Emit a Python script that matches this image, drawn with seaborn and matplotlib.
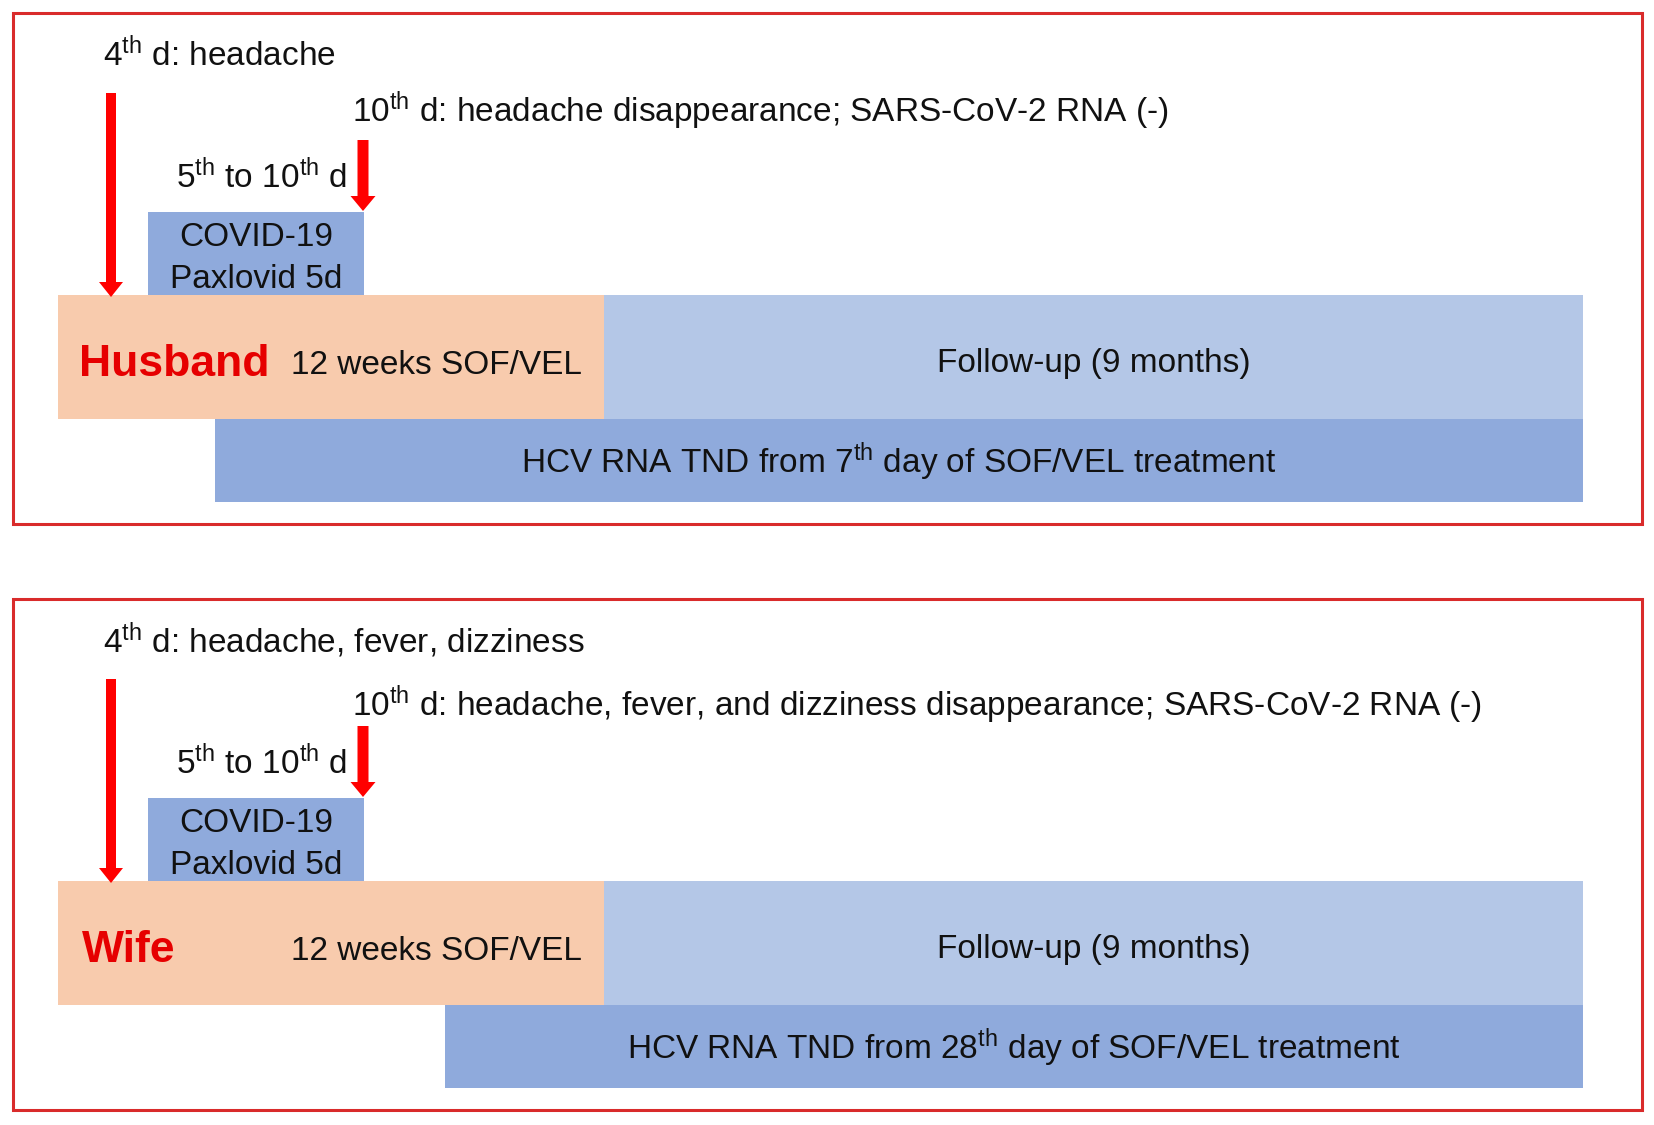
import matplotlib.pyplot as plt
import seaborn as sns
from matplotlib.patches import Rectangle

sns.set_theme(style="white")
plt.rcParams['font.family'] = ['Liberation Sans', 'DejaVu Sans']
plt.rcParams['mathtext.fontset'] = 'custom'
plt.rcParams['mathtext.rm'] = 'Liberation Sans'
plt.rcParams['mathtext.it'] = 'Liberation Sans:italic'
plt.rcParams['mathtext.bf'] = 'Liberation Sans:bold'

# Data (timeline in diagram units, one panel per patient)
patients = ["Husband", "Wife"]
onset_symptoms = ["headache", "headache, fever, dizziness"]
recovery_symptoms = ["headache disappearance",
                     "headache, fever, and dizziness disappearance"]
hcv_tnd_day = [7, 28]
treat_span = (58, 604)       # 12 weeks SOF/VEL
follow_span = (604, 1583)    # follow-up 9 months
covid_span = (148, 364)      # Paxlovid 5 days
hcv_start = [215, 445]       # HCV RNA TND from day x
hcv_end = 1583
onset_x = 111                # 4th day arrow
recovery_x = 363             # 10th day arrow

PEACH = "#F8CBAD"
LIGHT_BLUE = "#B4C7E7"
MID_BLUE = "#8FAADC"
RED = "#FF0000"
TXT = "#111111"

fig = plt.figure(figsize=(16.54, 11.25), dpi=100)
ax = fig.add_axes([0, 0, 1, 1])
ax.set_xlim(0, 1654)
ax.set_ylim(1125, 0)
ax.axis('off')

panel_offset = 586
name_x = [79, 82]
for i, name in enumerate(patients):
    off = i * panel_offset

    # panel frame
    ax.add_patch(Rectangle((13, 13 + off), 1629, 511, fill=False,
                           ec="#D92B2B", lw=2.2))

    # main bars
    ax.barh(357 + off, treat_span[1] - treat_span[0], left=treat_span[0],
            height=124, color=PEACH, edgecolor='none')
    ax.barh(357 + off, follow_span[1] - follow_span[0], left=follow_span[0],
            height=124, color=LIGHT_BLUE, edgecolor='none')
    ax.barh(460.5 + off, hcv_end - hcv_start[i], left=hcv_start[i],
            height=83, color=MID_BLUE, edgecolor='none')
    ax.barh(253.5 + off, covid_span[1] - covid_span[0], left=covid_span[0],
            height=83, color=MID_BLUE, edgecolor='none')

    # arrows
    ax.arrow(onset_x, 93 + off, 0, 204, width=10, head_width=24,
             head_length=15, length_includes_head=True, color=RED, lw=0)
    ax.arrow(recovery_x, 140 + off, 0, 71, width=11, head_width=25,
             head_length=15, length_includes_head=True, color=RED, lw=0)

    # texts
    ax.text(103, 66 + off, r"4$^{\mathrm{th}}$ d: " + onset_symptoms[i],
            fontsize=24, color=TXT, va='baseline', ha='left')
    rec_y = 122 if i == 0 else 716 - off
    ax.text(352, rec_y + off,
            r"10$^{\mathrm{th}}$ d: " + recovery_symptoms[i] +
            "; SARS-CoV-2 RNA (-)",
            fontsize=24, color=TXT, va='baseline', ha='left')
    ax.text(347, 188 + off, r"5$^{\mathrm{th}}$ to 10$^{\mathrm{th}}$ d",
            fontsize=24, color=TXT, va='baseline', ha='right')
    ax.text(256, 246 + off, "COVID-19", fontsize=24, color=TXT,
            va='baseline', ha='center')
    ax.text(256, 288 + off, "Paxlovid 5d", fontsize=24, color=TXT,
            va='baseline', ha='center')
    ax.text(name_x[i], 376 + off, name, fontsize=32, fontweight='bold',
            color="#E60000", va='baseline', ha='left')
    ax.text(582, 374 + off, "12 weeks SOF/VEL", fontsize=24, color=TXT,
            va='baseline', ha='right')
    ax.text(1094, 372 + off, "Follow-up (9 months)", fontsize=24, color=TXT,
            va='baseline', ha='center')
    ax.text((hcv_start[i] + hcv_end) / 2, 473 + off,
            "HCV RNA TND from " + str(hcv_tnd_day[i]) +
            r"$^{\mathrm{th}}$ day of SOF/VEL treatment",
            fontsize=24, color=TXT, va='baseline', ha='center')

fig.savefig('out.png', dpi=100)
